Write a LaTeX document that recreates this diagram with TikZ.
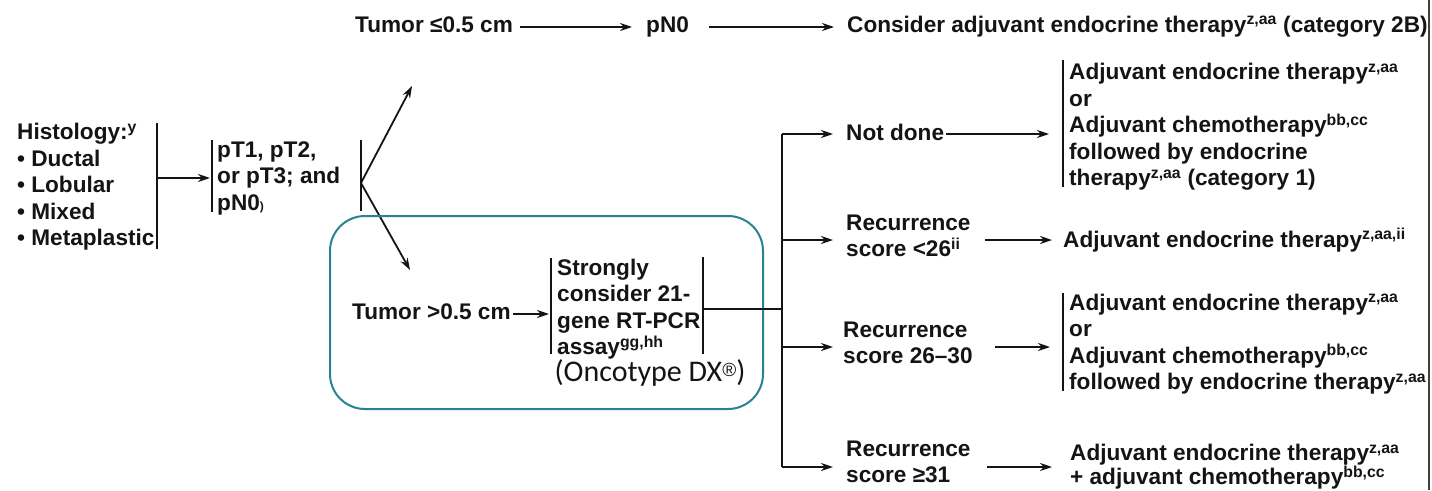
\documentclass[tikz,border=0pt]{standalone}
\usepackage{fontspec}
\setmainfont{Liberation Sans}
\newfontfamily\calib{Carlito}
\usetikzlibrary{arrows.meta}
\definecolor{teal1}{RGB}{40,130,148}
\definecolor{ink}{RGB}{20,20,20}
\begin{document}
\begin{tikzpicture}[x=1pt,y=-1pt,
  txt/.style={font=\bfseries\fontsize{22.6}{26.5}\selectfont, inner sep=0pt, align=left, anchor=west, text=ink},
  one/.style={txt, text height=16pt, text depth=5pt},
  arr/.style={-{Stealth[length=12pt,width=8pt]}, line width=1.8pt, draw=ink},
  ln/.style={line width=1.8pt, draw=ink},
  brk/.style={line width=2.2pt, draw=ink},
  frame/.style={draw=teal1, line width=2pt, rounded corners=35pt}]
\useasboundingbox (0,0) rectangle (1432,490);

% top row
\node[one] (t1) at (355,27) {Tumor ≤0.5 cm};
\node[one] (pn0) at (646,27) {pN0};
\node[one] (cons) at (847,27) {Consider adjuvant endocrine therapy\textsuperscript{z,aa} (category 2B)};
\draw[arr, shorten <=7pt, shorten >=14pt] (t1.east) -- (pn0.west);
\draw[arr, shorten <=20pt, shorten >=13pt] (pn0.east) -- (cons.west);

% histology
\node[txt] (hist) at (17,187) {Histology:\textsuperscript{y}\\• Ductal\\• Lobular\\• Mixed\\• Metaplastic};
\coordinate (hbt) at (157,123); \coordinate (hbb) at (157,249); \coordinate (hb) at (157,178);
\draw[brk] (hbt) -- (hbb);

\node[txt] (pt) at (217,178) {pT1, pT2,\\or pT3; and\\pN0{\fontsize{12}{12}\selectfont)}};
\coordinate (ptt) at (212,140); \coordinate (ptbm) at (212,212); \coordinate (ptb) at (212,178);
\draw[brk] (ptt) -- (ptbm);
\draw[arr, shorten >=2pt] (hb) -- (ptb);

% fork
\coordinate (fkt) at (361,140); \coordinate (fkb) at (361,211); \coordinate (fk) at (361,183);
\draw[brk] (fkt) -- (fkb);
\coordinate (upend) at (412,86);
\coordinate (dnend) at (410,270);
\draw[arr] (fk) -- (upend);
\draw[arr] (fk) -- (dnend);

% highlighted box
\draw[frame] (330,216) rectangle (763,409);
\node[one] (tg) at (352,314) {Tumor >0.5 cm};
\node[txt] (sc) at (557,309) {Strongly\\consider 21-\\gene RT-PCR\\assay\textsuperscript{gg,hh}};
\coordinate (sclt) at (551,258); \coordinate (sclb) at (551,354); \coordinate (scl) at (551,314);
\coordinate (scrt) at (703,257); \coordinate (scrb) at (703,354); \coordinate (scr) at (703,309);
\draw[brk] (sclt) -- (sclb);
\draw[brk] (scrt) -- (scrb);
\draw[arr, shorten <=2pt, shorten >=2pt] (tg.east) -- (scl);
\node[font=\calib\fontsize{30}{32}\selectfont, inner sep=0pt, text=ink] (onc) at (650,373) {(Oncotype DX\raisebox{5pt}{\fontspec{Liberation Sans}\fontsize{19}{19}\selectfont ®})};

% branch
\coordinate (br) at (782,309);
\coordinate (b1) at (782,134); \coordinate (b2) at (782,240);
\coordinate (b3) at (782,347); \coordinate (b4) at (782,467);
\draw[ln] (scr) -- (br);
\draw[ln] (b1) -- (b4);

\node[one] (nd) at (846,135) {Not done};
\node[txt] (rs1) at (846,236) {Recurrence\\score <26\textsuperscript{ii}};
\node[txt] (rs2) at (843,343) {Recurrence\\score 26–30};
\node[txt] (rs3) at (846,462) {Recurrence\\score ≥31};
\draw[arr, shorten >=13pt] (b1) -- (nd.west |- b1);
\draw[arr, shorten >=13pt] (b2) -- (rs1.west |- b2);
\draw[arr, shorten >=10pt] (b3) -- (rs2.west |- b3);
\draw[arr, shorten >=13pt] (b4) -- (rs3.west |- b4);

% results
\node[txt] (r1) at (1069,127) {Adjuvant endocrine therapy\textsuperscript{z,aa}\\or\\Adjuvant chemotherapy\textsuperscript{bb,cc}\\followed by endocrine\\therapy\textsuperscript{z,aa} (category 1)};
\coordinate (r1t) at (1063,60); \coordinate (r1b) at (1063,187);
\draw[brk] (r1t) -- (r1b);
\draw[arr, shorten <=2pt, shorten >=14pt] (nd.east |- b1) -- (r1t |- b1);

\node[one] (r2) at (1063,242) {Adjuvant endocrine therapy\textsuperscript{z,aa,ii}};
\draw[arr, shorten <=14pt, shorten >=11pt] (rs1.east |- b2) -- (r2.west |- b2);

\node[txt] (r3) at (1069,344) {Adjuvant endocrine therapy\textsuperscript{z,aa}\\or\\Adjuvant chemotherapy\textsuperscript{bb,cc}\\followed by endocrine therapy\textsuperscript{z,aa}};
\coordinate (r3t) at (1063,293); \coordinate (r3b) at (1063,391); \coordinate (r3m) at (1063,347);
\draw[brk] (r3t) -- (r3b);
\draw[arr, shorten <=22pt, shorten >=13pt] (rs2.east |- b3) -- (r3m);

\node[txt, font=\bfseries\fontsize{22.6}{24}\selectfont] (r4) at (1070,467) {Adjuvant endocrine therapy\textsuperscript{z,aa}\\+ adjuvant chemotherapy\textsuperscript{bb,cc}};
\draw[arr, shorten <=16pt, shorten >=18pt] (rs3.east |- b4) -- (r4.west |- b4);

% right edge rule
\coordinate (et) at (1429,0); \coordinate (eb) at (1429,490);
\draw[line width=2pt, draw=black!75] (et) -- (eb);
\end{tikzpicture}
\end{document}
